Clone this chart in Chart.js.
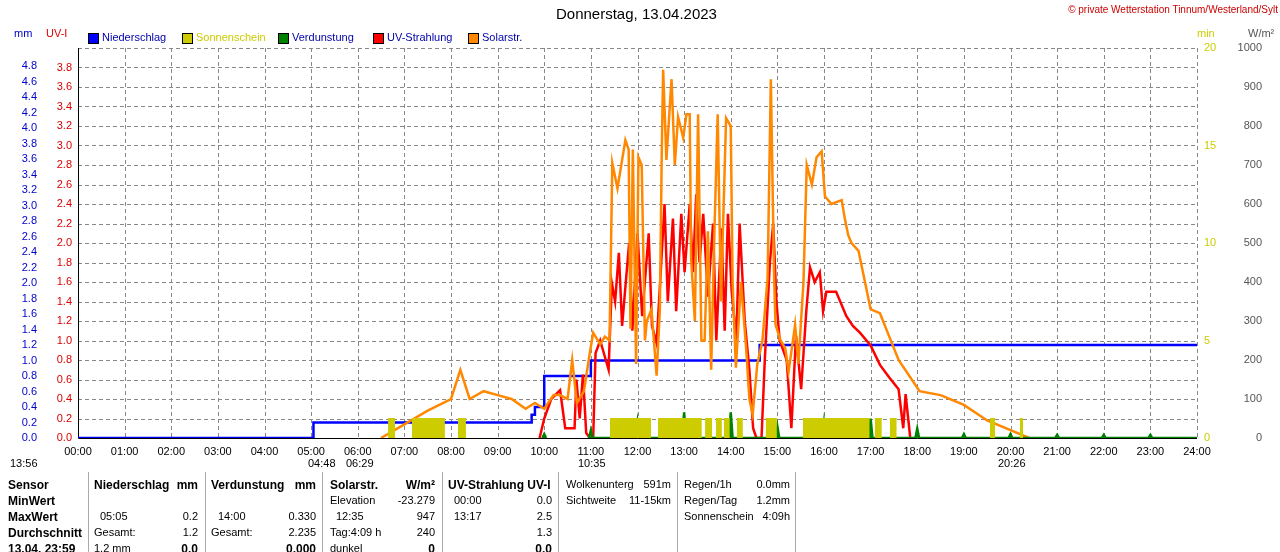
<!DOCTYPE html><html><head><meta charset="utf-8">
<script src="https://cdn.jsdelivr.net/npm/chart.js@4/dist/chart.umd.min.js"></script>
<style>
body{margin:0;background:#fff;font-family:"Liberation Sans",Arial,sans-serif;}
#wrap{position:relative;width:1280px;height:552px;overflow:hidden}
canvas{position:absolute;left:0;top:0}
.t{position:absolute;font-size:11px;white-space:nowrap;color:#000}
.b{font-weight:bold;font-size:12px}
.sep{position:absolute;top:472px;height:80px;width:1px;background:#aaa}
</style></head><body><div id="wrap"><canvas id="c" width="1280" height="552"></canvas></div>
<script>
const hourLabels=["00:00","01:00","02:00","03:00","04:00","05:00","06:00","07:00","08:00","09:00","10:00","11:00","12:00","13:00","14:00","15:00","16:00","17:00","18:00","19:00","20:00","21:00","22:00","23:00","24:00"];
const solarT=[6.5,7.0,7.5,8.0,8.2,8.4,8.7,9.0,9.3,9.6,9.8,10.0,10.2,10.34,10.5,10.6,10.7,10.85,10.98,11.05,11.2,11.3,11.4,
 11.46,11.57,11.74,11.81,11.85,11.9,11.97,12.02,12.09,12.16,12.2,12.3,12.41,12.48,12.52,12.55,12.62,12.73,12.8,12.87,12.98,
 13.05,13.12,13.15,13.23,13.3,13.37,13.44,13.51,13.58,13.65,13.72,13.79,13.9,14.0,14.04,14.11,14.22,14.33,14.4,14.47,14.57,
 14.68,14.79,14.86,14.93,14.96,15.07,15.17,15.24,15.31,15.38,15.45,15.56,15.63,15.74,15.84,15.95,16.02,16.16,16.38,16.45,
 16.52,16.59,16.74,17.0,17.2,17.4,17.6,18.05,18.5,19.0,19.5,20.0,20.4];
const solarW=[0,35,70,100,175,100,120,110,100,75,90,75,110,110,100,200,90,120,220,270,240,260,250,
 705,640,764,740,280,740,190,720,700,250,300,330,160,330,730,944,713,920,700,823,770,
 830,830,460,300,830,250,250,530,175,530,830,350,820,800,400,180,400,230,100,60,190,
 250,410,920,410,290,250,230,170,230,290,190,400,700,650,720,735,620,600,610,560,
 520,500,480,330,320,260,200,120,110,85,45,20,0];
const uvT=[9.9,10.0,10.15,10.34,10.45,10.65,10.69,10.76,10.83,10.9,10.98,11.05,11.1,11.2,11.38,11.45,11.52,11.6,11.67,11.82,11.89,12.0,12.1,12.24,12.31,12.41,12.48,12.58,12.65,12.76,12.83,12.94,13.01,13.12,13.19,13.26,13.33,13.41,13.51,13.62,13.69,13.8,13.87,13.94,14.02,14.12,14.19,14.3,14.4,14.48,14.55,14.66,14.73,14.84,14.91,14.98,15.05,15.2,15.3,15.4,15.51,15.62,15.7,15.8,15.91,15.98,16.05,16.26,16.48,16.62,16.77,17.0,17.2,17.4,17.6,17.7,17.75,17.85];
const uvV=[0,0.2,0.4,0.49,0.1,0.1,0.6,0.2,0.65,0.05,0,0,0.87,1.0,0.7,1.59,1.4,1.9,1.15,2.0,1.1,2.1,1.25,2.1,1.15,0.97,1.55,2.4,1.4,2.25,1.3,2.3,1.7,2.4,1.7,2.5,1.8,2.3,1.45,2.2,1.0,2.15,1.1,2.3,1.5,1.0,2.2,1.2,0.7,0.1,0.0,0.0,0.8,1.8,2.2,1.4,1.0,0.8,0.1,1.05,0.5,1.3,1.75,1.6,1.7,1.3,1.5,1.5,1.25,1.15,1.08,0.95,0.75,0.62,0.5,0.1,0.45,0];
const rainT=[0,5.05,9.73,9.8,10.0,11.0,14.62,24];
const rainMM=[0,0.2,0.3,0.4,0.8,1.0,1.2,1.2];
const sunStart=[6.65,7.16,8.15,11.41,12.44,13.45,13.68,13.85,14.13,14.75,15.55,17.09,17.41,19.56,20.2];
const sunEnd=[6.8,7.87,8.32,12.29,13.38,13.6,13.81,13.98,14.26,14.99,16.98,17.24,17.56,19.67,20.27];
const sunMin=1;
const evapHours=[10,11,12,13,14,15,16,17,18,19,20,21,22,23];
const evapMM=[0.05,0.1,0.2,0.33,0.33,0.15,0.2,0.25,0.12,0.05,0.05,0.04,0.04,0.04];

const sunData=[];sunStart.forEach((s,i)=>{sunData.push({x:s,y:sunMin},{x:sunEnd[i],y:sunMin},{x:sunEnd[i],y:null});});
const evapData=[];
evapHours.forEach((h,i)=>{evapData.push({x:h-0.04,y:0},{x:h,y:evapMM[i]},{x:h+0.04,y:0});if(h<11)evapData.push({x:h+0.05,y:null},{x:11,y:0});});
evapData.push({x:24,y:0});
const F='"Liberation Sans", Arial, sans-serif';
const deco={id:'deco',
beforeDatasetsDraw(ch){const c=ch.ctx,a=ch.chartArea,x=ch.scales.x,uv=ch.scales.uv;c.save();c.strokeStyle='#888';c.lineWidth=1;c.setLineDash([4,3]);
for(let h=1;h<=24;h++){const px=Math.round(x.getPixelForValue(h))+0.5;c.beginPath();c.moveTo(px,a.top);c.lineTo(px,a.bottom);c.stroke();}
for(let v=0.2;v<=4.001;v+=0.2){const py=Math.round(uv.getPixelForValue(v))+0.5;c.beginPath();c.moveTo(a.left,py);c.lineTo(a.right,py);c.stroke();}
c.setLineDash([]);c.strokeStyle='#000';c.beginPath();c.moveTo(a.left+0.5,a.top);c.lineTo(a.left+0.5,a.bottom+0.5);c.lineTo(a.right,a.bottom+0.5);c.stroke();c.restore();},
afterDraw(ch){const c=ch.ctx,a=ch.chartArea,x=ch.scales.x,mm=ch.scales.mm,uv=ch.scales.uv,mi=ch.scales.mi,w=ch.scales.w;c.save();c.font='11px '+F;c.textBaseline='middle';
c.textAlign='right';c.fillStyle='#0000cc';for(let i=0;i<=24;i++){const v=i*0.2;c.fillText(v.toFixed(1),37,mm.getPixelForValue(v));}
c.fillStyle='#dd0000';for(let i=0;i<=19;i++){const v=i*0.2;c.fillText(v.toFixed(1),72,uv.getPixelForValue(v));}
c.textAlign='left';c.fillStyle='#cccc00';[0,5,10,15,20].forEach(v=>c.fillText(String(v),1204,mi.getPixelForValue(v)));
c.textAlign='right';c.fillStyle='#555';for(let v=0;v<=1000;v+=100)c.fillText(String(v),1262,w.getPixelForValue(v));
c.textAlign='center';c.fillStyle='#000';hourLabels.forEach((l,i)=>c.fillText(l,x.getPixelForValue(i),452));
c.restore();}};
new Chart(document.getElementById('c'),{type:'line',plugins:[deco],
data:{datasets:[
{label:'sun',data:sunData,yAxisID:'mi',stepped:true,fill:'origin',backgroundColor:'#cccc00',borderColor:'#cccc00',borderWidth:1,pointRadius:0,spanGaps:false},
{label:'evap',data:evapData,yAxisID:'mm',borderColor:'#008000',backgroundColor:'#008000',fill:'origin',borderWidth:2.5,pointRadius:0,spanGaps:false},
{label:'solar',data:solarT.map((t,i)=>({x:t,y:solarW[i]})),yAxisID:'w',borderColor:'#ff8800',borderWidth:2.5,pointRadius:0},
{label:'uv',data:uvT.map((t,i)=>({x:t,y:uvV[i]})),yAxisID:'uv',borderColor:'#ff0000',borderWidth:2.5,pointRadius:0},
{label:'rain',data:rainT.map((t,i)=>({x:t,y:rainMM[i]})),yAxisID:'mm',stepped:true,borderColor:'#0000ff',borderWidth:2.5,pointRadius:0}
]},
options:{responsive:false,animation:false,events:[],layout:{padding:{left:78,right:83,top:48,bottom:114}},
plugins:{legend:{display:false},tooltip:{enabled:false}},
scales:{x:{type:'linear',min:0,max:24,display:false},
mm:{min:0,max:5.032,display:false},uv:{min:0,max:4,display:false},
mi:{min:0,max:20,display:false,position:'right'},w:{min:0,max:1000,display:false,position:'right'}}}});

const W=document.getElementById('wrap');
function T(txt,x,y,cls,style){const d=document.createElement('div');d.className='t '+(cls||'');d.textContent=txt;d.style.left=x+'px';d.style.top=y+'px';if(style)d.setAttribute('style',d.getAttribute('style')+';'+style);W.appendChild(d);return d;}
function R(txt,right,y,cls,style){const d=T(txt,0,y,cls,style);d.style.left='auto';d.style.right=(1280-right)+'px';return d;}
T('Donnerstag, 13.04.2023',556,5,'','font-size:15px');
R('© private Wetterstation Tinnum/Westerland/Sylt',1278,4,'','color:#cc0000;font-size:10px');
T('mm',14,27,'','color:#0000cc');T('UV-I',46,27,'','color:#dd0000');
[['Niederschlag','#0000ff',88],['Sonnenschein','#cccc00',182],['Verdunstung','#008000',278],['UV-Strahlung','#ff0000',373],['Solarstr.','#ff8800',468]].forEach(l=>{const s=document.createElement('div');s.setAttribute('style','position:absolute;left:'+l[2]+'px;top:33px;width:9px;height:9px;background:'+l[1]+';border:1px solid #000');W.appendChild(s);T(l[0],l[2]+14,31,'','color:'+(l[1]=='#cccc00'?'#cccc00':'#0000aa'));});
T('min',1197,27,'','color:#cccc00');T('W/m²',1248,27,'','color:#555');
T('13:56',10,457);T('04:48',308,457);T('06:29',346,457);T('10:35',578,457);T('20:26',998,457);
[88,205,322,442,558,677,795].forEach(x=>{const s=document.createElement('div');s.className='sep';s.style.left=x+'px';W.appendChild(s);});
const rows=[478,494,510,526,542];
T('Sensor',8,rows[0],'b');T('MinWert',8,rows[1],'b');T('MaxWert',8,rows[2],'b');T('Durchschnitt',8,rows[3],'b');T('13.04. 23:59',8,rows[4],'b');
T('Niederschlag',94,rows[0],'b');R('mm',198,rows[0],'b');T('05:05',100,rows[2]);R('0.2',198,rows[2]);T('Gesamt:',94,rows[3]);R('1.2',198,rows[3]);T('1.2 mm',94,rows[4]);R('0.0',198,rows[4],'b');
T('Verdunstung',211,rows[0],'b');R('mm',316,rows[0],'b');T('14:00',218,rows[2]);R('0.330',316,rows[2]);T('Gesamt:',211,rows[3]);R('2.235',316,rows[3]);R('0.000',316,rows[4],'b');
T('Solarstr.',330,rows[0],'b');R('W/m²',435,rows[0],'b');T('Elevation',330,rows[1]);R('-23.279',435,rows[1]);T('12:35',336,rows[2]);R('947',435,rows[2]);T('Tag:4:09 h',330,rows[3]);R('240',435,rows[3]);T('dunkel',330,rows[4]);R('0',435,rows[4],'b');
T('UV-Strahlung UV-I',448,rows[0],'b');T('00:00',454,rows[1]);R('0.0',552,rows[1]);T('13:17',454,rows[2]);R('2.5',552,rows[2]);R('1.3',552,rows[3]);R('0.0',552,rows[4],'b');
T('Wolkenunterg',566,rows[0]);R('591m',671,rows[0]);T('Sichtweite',566,rows[1]);R('11-15km',671,rows[1]);
T('Regen/1h',684,rows[0]);R('0.0mm',790,rows[0]);T('Regen/Tag',684,rows[1]);R('1.2mm',790,rows[1]);T('Sonnenschein',684,rows[2]);R('4:09h',790,rows[2]);
</script></body></html>
